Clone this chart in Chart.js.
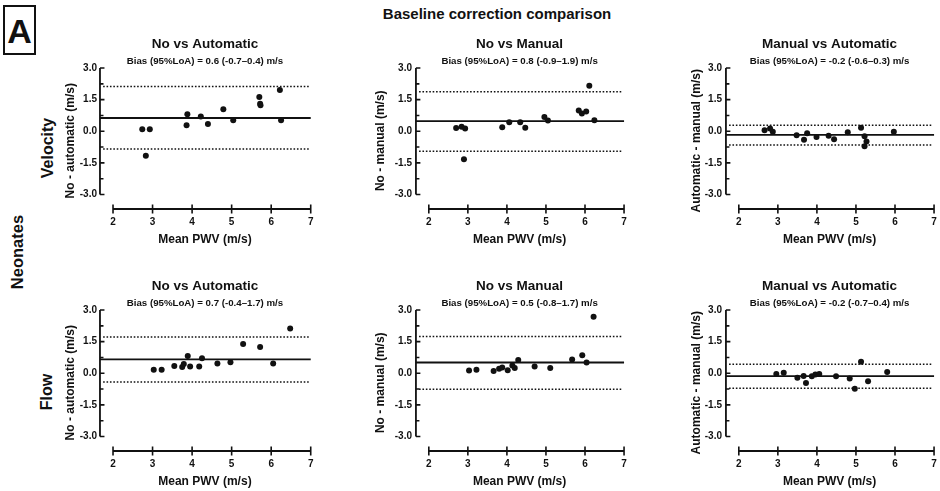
<!DOCTYPE html>
<html>
<head>
<meta charset="utf-8">
<title>Baseline correction comparison</title>
<script src="https://cdn.jsdelivr.net/npm/chart.js@4.4.1/dist/chart.umd.min.js"></script>
<style>
    html, body { margin: 0; padding: 0; background: #fff; }
    body { font-family: 'Liberation Sans', Arial, sans-serif; color: #111; }
    canvas { position: absolute; }
    .lbl { position: absolute; font-weight: bold; white-space: nowrap; line-height: 1; }
    .rot { transform: translate(-50%, -50%) rotate(-90deg); }
    .mid { transform: translate(-50%, -50%); }
    #panelTag {
        position: absolute; left: 3px; top: 5px; width: 29px; height: 46px;
        border: 2px solid #111; font-size: 34px; font-weight: bold;
        text-align: center; line-height: 48px;
    }
</style>
</head>
<body>
<div id="panelTag">A</div>
<div class="lbl mid" style="left:497px; top:13px; font-size:15px;">Baseline correction comparison</div>
<div class="lbl rot" style="left:48px; top:148px; font-size:16px;">Velocity</div>
<div class="lbl rot" style="left:17px; top:252px; font-size:16.5px;">Neonates</div>
<div class="lbl rot" style="left:47px; top:392px; font-size:16px;">Flow</div>

<canvas id="c0"></canvas>
<canvas id="c1"></canvas>
<canvas id="c2"></canvas>
<canvas id="c3"></canvas>
<canvas id="c4"></canvas>
<canvas id="c5"></canvas>

<script>
// ---- data ----
// lines = [bias, upper LoA, lower LoA]
const xTicks = [2, 3, 4, 5, 6, 7];
const yTicks = [-3, -1.5, 0, 1.5, 3];

const velNoAutoMean = [2.74, 2.93, 2.83, 3.86, 3.88, 4.22, 4.40, 4.79, 5.04, 5.70, 5.72, 5.73, 6.22, 6.25];
const velNoAutoDiff = [0.09, 0.09, -1.16, 0.28, 0.81, 0.70, 0.35, 1.04, 0.52, 1.63, 1.31, 1.23, 1.96, 0.52];
const velNoAutoLines = [0.63, 2.12, -0.84];

const velNoManMean = [2.70, 2.84, 2.93, 2.90, 3.88, 4.06, 4.34, 4.47, 4.96, 5.05, 5.84, 5.92, 6.03, 6.11, 6.24];
const velNoManDiff = [0.16, 0.21, 0.13, -1.33, 0.19, 0.43, 0.43, 0.17, 0.68, 0.51, 0.98, 0.84, 0.94, 2.16, 0.52];
const velNoManLines = [0.48, 1.87, -0.95];

const velManAutoMean = [2.66, 2.80, 2.87, 3.48, 3.67, 3.75, 3.99, 4.30, 4.44, 4.79, 5.13, 5.22, 5.27, 5.22, 5.97];
const velManAutoDiff = [0.05, 0.13, -0.02, -0.19, -0.40, -0.10, -0.27, -0.21, -0.38, -0.05, 0.17, -0.24, -0.48, -0.71, -0.02];
const velManAutoLines = [-0.17, 0.29, -0.65];

const flowNoAutoMean = [3.03, 3.23, 3.55, 3.75, 3.79, 3.89, 3.95, 4.18, 4.25, 4.64, 4.97, 5.29, 5.72, 6.05, 6.48];
const flowNoAutoDiff = [0.17, 0.17, 0.35, 0.30, 0.44, 0.82, 0.32, 0.32, 0.71, 0.46, 0.52, 1.39, 1.25, 0.46, 2.12];
const flowNoAutoLines = [0.66, 1.72, -0.41];

const flowNoManMean = [3.03, 3.22, 3.66, 3.80, 3.88, 4.02, 4.14, 4.20, 4.29, 4.71, 5.11, 5.67, 5.93, 6.04, 6.22];
const flowNoManDiff = [0.13, 0.17, 0.11, 0.21, 0.27, 0.14, 0.37, 0.25, 0.63, 0.32, 0.25, 0.65, 0.86, 0.51, 2.68];
const flowNoManLines = [0.51, 1.75, -0.76];

const flowManAutoMean = [2.96, 3.15, 3.50, 3.66, 3.72, 3.87, 3.96, 4.06, 4.49, 4.84, 4.97, 5.13, 5.31, 5.80];
const flowManAutoDiff = [-0.03, 0.03, -0.21, -0.13, -0.46, -0.14, -0.06, -0.03, -0.14, -0.25, -0.73, 0.55, -0.38, 0.06];
const flowManAutoLines = [-0.14, 0.43, -0.71];

const titles = ['No vs Automatic', 'No vs Manual', 'Manual vs Automatic'];
const yTitles = ['No - automatic (m/s)', 'No - manual (m/s)', 'Automatic - manual (m/s)'];
const subtitles = [
    'Bias (95%LoA) = 0.6 (-0.7\u20130.4) m/s',
    'Bias (95%LoA) = 0.8 (-0.9\u20131.9) m/s',
    'Bias (95%LoA) = -0.2 (-0.6\u20130.3) m/s',
    'Bias (95%LoA) = 0.7 (-0.4\u20131.7) m/s',
    'Bias (95%LoA) = 0.5 (-0.8\u20131.7) m/s',
    'Bias (95%LoA) = -0.2 (-0.7\u20130.4) m/s'
];

// ---- layout ----
// the plot area is a bit larger than the data range so the axes fit inside it
const X_LO = 1.6, X_HI = 7.05;
const Y_LO = -3.95, Y_HI = 3.05;
const X_AXIS_AT = 1.67;      // y axis position (a little left of x = 2)
const X_AXIS_Y = -3.69;      // detached x axis, below the -3.0 end of the y axis
const Y_TICK_MAJOR = 0.114;  // ~4.5 px
const Y_TICK_MINOR = 0.089;  // ~3.5 px
const X_TICK_HALF = 0.213;   // ~4.5 px
const INK = '#111';
const FONT = "'Liberation Sans', Arial, sans-serif";
const CANVAS_H = 220;
const ROW_TOP = [30, 272.3];
const COLS = [
    { left: 60,  width: 260, yWidth: 37.2, yTitlePad: 3.4, tickPad: 0.2, padRight: 7.3 },
    { left: 372, width: 262, yWidth: 41.2, yTitlePad: 1.4, tickPad: 1.2, padRight: 8 },
    { left: 686, width: 254, yWidth: 37.2, yTitlePad: 3.4, tickPad: 1.2, padRight: 1.3 }
];

function font(size) {
    return { family: FONT, size: size, weight: 'bold' };
}

/**
 * Stroke-only dataset (no point markers).
 * Segments are separated by points with y = null.
 */
function strokeSet(points, width, dash) {
    return {
        type: 'scatter',
        showLine: true,
        spanGaps: false,
        data: points,
        borderColor: INK,
        borderWidth: width,
        borderDash: dash || [],
        borderCapStyle: 'butt',
        pointRadius: 0
    };
}

// Prism-style axes built from the tick arrays
function axisSets() {
    const yLine = [{ x: X_AXIS_AT, y: yTicks[0] }, { x: X_AXIS_AT, y: yTicks[yTicks.length - 1] }];
    const yMarks = [];
    yTicks.forEach(function(v, i) {
        yMarks.push({ x: X_AXIS_AT, y: v }, { x: X_AXIS_AT + Y_TICK_MAJOR, y: v }, { x: X_AXIS_AT, y: null });
        if (i < yTicks.length - 1) {
            const m = (v + yTicks[i + 1]) / 2;
            yMarks.push({ x: X_AXIS_AT, y: m }, { x: X_AXIS_AT + Y_TICK_MINOR, y: m }, { x: X_AXIS_AT, y: null });
        }
    });
    const xLine = [{ x: xTicks[0], y: X_AXIS_Y }, { x: xTicks[xTicks.length - 1], y: X_AXIS_Y }];
    const xMarks = [];
    xTicks.forEach(function(v) {
        xMarks.push({ x: v, y: X_AXIS_Y + X_TICK_HALF }, { x: v, y: X_AXIS_Y - X_TICK_HALF }, { x: v, y: null });
    });
    return [strokeSet(yLine, 1.8), strokeSet(yMarks, 1.6), strokeSet(xLine, 1.8), strokeSet(xMarks, 1.6)];
}

function hLine(value, x0, x1, dotted) {
    return strokeSet([{ x: x0, y: value }, { x: x1, y: value }],
        dotted ? 1.5 : 1.8, dotted ? [1.6, 1.8] : []);
}

function buildPanel(index, mean, diff, lines) {
    const col = COLS[index % 3];
    const row = Math.floor(index / 3);
    const canvas = document.getElementById('c' + index);
    canvas.width = col.width;
    canvas.height = CANVAS_H;
    canvas.style.left = col.left + 'px';
    canvas.style.top = ROW_TOP[row] + 'px';

    const points = mean.map(function(m, i) { return { x: m, y: diff[i] }; });

    const datasets = axisSets().concat([
        hLine(lines[0], X_AXIS_AT, xTicks[xTicks.length - 1], false),
        hLine(lines[1], X_AXIS_AT + 0.08, xTicks[xTicks.length - 1] - 0.05, true),
        hLine(lines[2], X_AXIS_AT + 0.08, xTicks[xTicks.length - 1] - 0.05, true),
        {
            data: points,
            pointRadius: 3,
            pointBackgroundColor: INK,
            pointBorderWidth: 0
        }
    ]);

    return new Chart(canvas.getContext('2d'), {
        type: 'scatter',
        data: { datasets: datasets },
        options: {
            responsive: false,
            animation: false,
            devicePixelRatio: 1,
            layout: { padding: { left: 0, top: 0, bottom: 0, right: col.padRight } },
            plugins: {
                legend: { display: false },
                tooltip: { enabled: false },
                title: {
                    display: true,
                    fullSize: false,
                    text: titles[index % 3],
                    font: font(13.5),
                    color: INK,
                    padding: { top: 6.35, bottom: 0 }
                },
                subtitle: {
                    display: true,
                    fullSize: false,
                    text: subtitles[index],
                    font: font(9.7),
                    color: INK,
                    padding: { top: 2.8, bottom: 0 }
                }
            },
            scales: {
                x: {
                    type: 'linear',
                    min: X_LO,
                    max: X_HI,
                    // invisible tick marks only set the label distance
                    grid: { display: true, drawOnChartArea: false, drawTicks: true, tickLength: 1.5, color: 'rgba(0,0,0,0)' },
                    border: { display: false },
                    afterBuildTicks: function(axis) {
                        axis.ticks = xTicks.map(function(v) { return { value: v }; });
                    },
                    afterFit: function(axis) { axis.height = 35.5; },
                    ticks: {
                        autoSkip: false,
                        maxRotation: 0,
                        padding: 0,
                        color: INK,
                        font: font(10),
                        callback: function(v) { return String(v); }
                    },
                    title: {
                        display: true,
                        text: 'Mean PWV (m/s)',
                        color: INK,
                        font: font(12),
                        padding: { top: 0, bottom: 2.8 }
                    }
                },
                y: {
                    type: 'linear',
                    min: Y_LO,
                    max: Y_HI,
                    grid: { display: false, drawTicks: false },
                    border: { display: false },
                    afterBuildTicks: function(axis) {
                        axis.ticks = yTicks.map(function(v) { return { value: v }; });
                    },
                    afterFit: function(axis) { axis.width = col.yWidth; },
                    ticks: {
                        padding: col.tickPad,
                        color: INK,
                        font: font(10),
                        callback: function(v) { return Number(v).toFixed(1); }
                    },
                    title: {
                        display: true,
                        text: yTitles[index % 3],
                        color: INK,
                        font: font(12),
                        padding: { top: col.yTitlePad, bottom: 0 }
                    }
                }
            }
        }
    });
}

buildPanel(0, velNoAutoMean, velNoAutoDiff, velNoAutoLines);
buildPanel(1, velNoManMean, velNoManDiff, velNoManLines);
buildPanel(2, velManAutoMean, velManAutoDiff, velManAutoLines);
buildPanel(3, flowNoAutoMean, flowNoAutoDiff, flowNoAutoLines);
buildPanel(4, flowNoManMean, flowNoManDiff, flowNoManLines);
buildPanel(5, flowManAutoMean, flowManAutoDiff, flowManAutoLines);
</script>
</body>
</html>
